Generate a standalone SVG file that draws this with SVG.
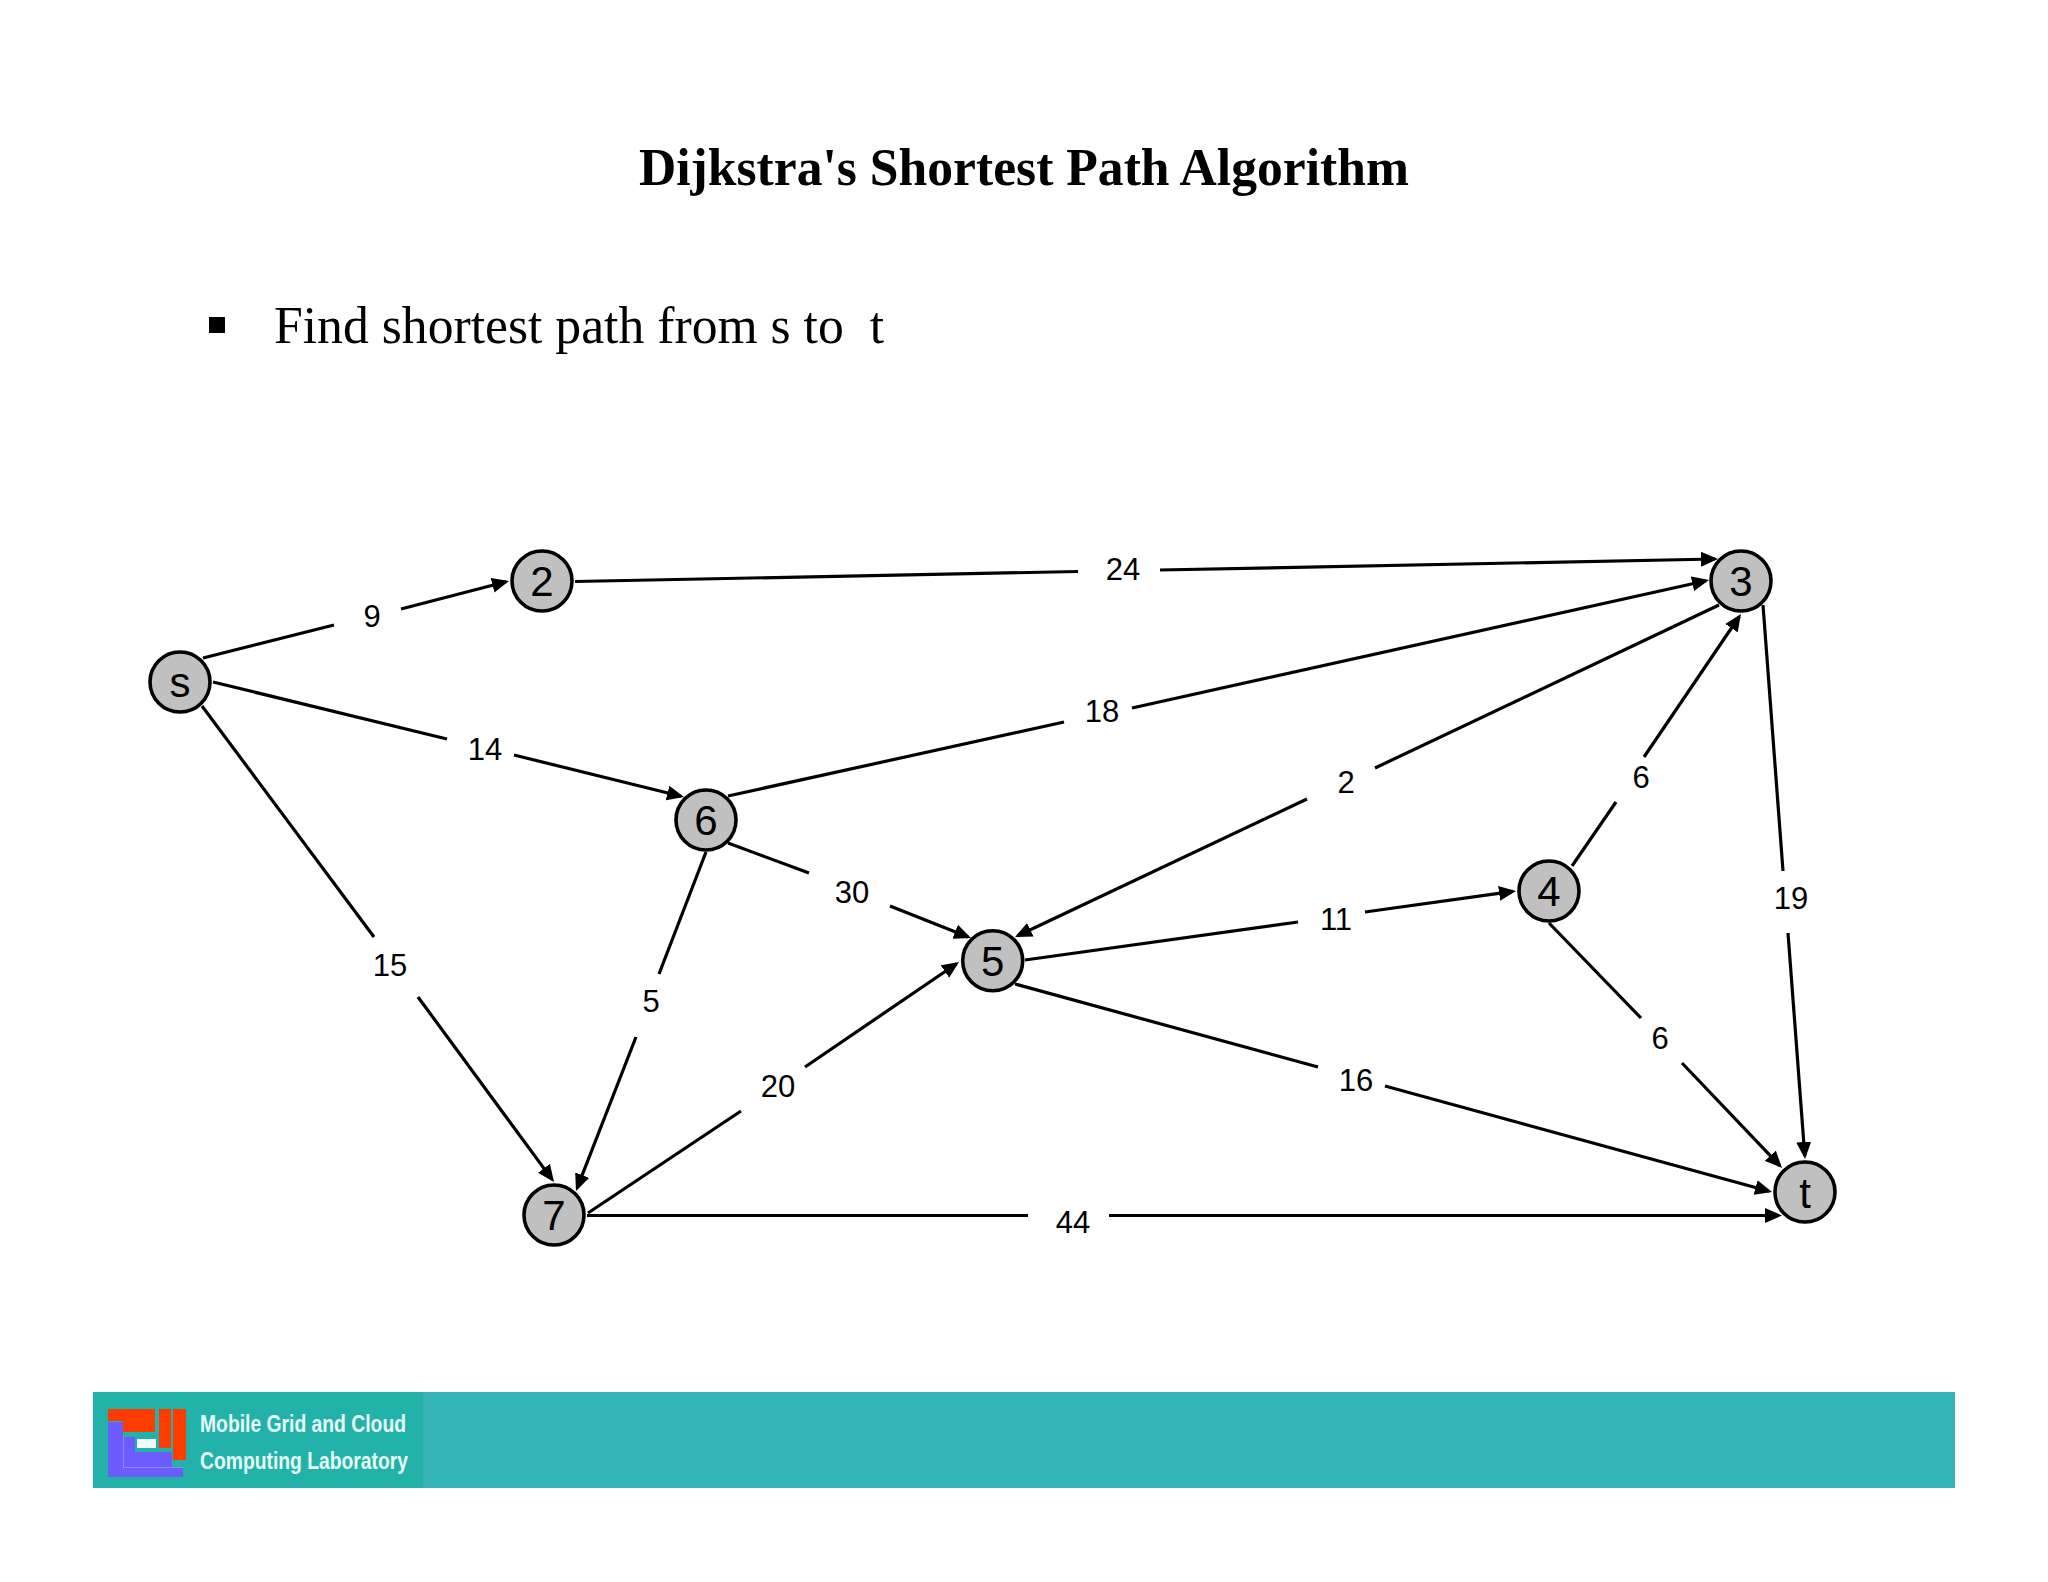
<svg xmlns="http://www.w3.org/2000/svg" width="2048" height="1582" viewBox="0 0 2048 1582">
  <style>
    .e { stroke: #000; stroke-width: 3.2; fill: none; }
    .a { marker-end: url(#arrow); }
    .w { font-family: "Liberation Sans", Arial, sans-serif; font-size: 31px; fill: #000; text-anchor: middle; }
    .n { fill: #c0c0c0; stroke: #000; stroke-width: 3.6; }
    .nt { font-family: "Liberation Sans", Arial, sans-serif; font-size: 42px; fill: #000; text-anchor: middle; }
    .title { font-family: "Liberation Serif", "Times New Roman", serif; font-size: 53px; font-weight: bold; fill: #000; }
    .body { font-family: "Liberation Serif", "Times New Roman", serif; font-size: 53px; fill: #000; white-space: pre; }
    .logo { font-family: "Liberation Sans", Arial, sans-serif; font-size: 23px; font-weight: bold; fill: #e6fbf6; }
    .or { fill: #ff3c00; }
    .bl { fill: #6a5cff; }
  </style>
  <defs>
    <marker id="arrow" markerUnits="userSpaceOnUse" markerWidth="17" markerHeight="16" viewBox="0 0 17 16" refX="14" refY="8" orient="auto">
      <path d="M0 0.5L17 8L0 15.5Z" fill="#000"/>
    </marker>
  </defs>
  <rect width="2048" height="1582" fill="#fff"/>

  <text class="title" x="639" y="185" textLength="770" lengthAdjust="spacingAndGlyphs">Dijkstra's Shortest Path Algorithm</text>
  <rect x="209" y="317" width="16" height="16" fill="#000"/>
  <text class="body" x="274" y="343" textLength="610" lengthAdjust="spacingAndGlyphs" xml:space="preserve">Find shortest path from s to  t</text>

  <g id="connectors">
    <line class="e" x1="203" y1="658" x2="334" y2="625"/><line class="e a" x1="401" y1="609" x2="506.1" y2="581.8"/>
    <text class="w" x="372" y="627">9</text>
    <line class="e" x1="213" y1="682" x2="447" y2="739"/><line class="e a" x1="514" y1="755" x2="681.1" y2="796.3"/>
    <text class="w" x="485" y="760">14</text>
    <line class="e" x1="202" y1="706" x2="374" y2="937"/><line class="e a" x1="418" y1="997" x2="552.2" y2="1179.6"/>
    <text class="w" x="390" y="976">15</text>
    <line class="e" x1="575" y1="581.5" x2="1078" y2="571.5"/><line class="e a" x1="1160" y1="570" x2="1715" y2="559"/>
    <text class="w" x="1123" y="580">24</text>
    <line class="e" x1="728" y1="796" x2="1064" y2="722"/><line class="e a" x1="1132" y1="708" x2="1706.1" y2="580.7"/>
    <text class="w" x="1102" y="722">18</text>
    <line class="e" x1="1719" y1="605" x2="1375" y2="768"/><line class="e a" x1="1307" y1="799" x2="1017.7" y2="935.7"/>
    <text class="w" x="1346" y="793">2</text>
    <line class="e" x1="1572" y1="866" x2="1616" y2="802"/><line class="e a" x1="1644" y1="757" x2="1739.3" y2="616.5"/>
    <text class="w" x="1641" y="788">6</text>
    <line class="e" x1="1763" y1="605" x2="1783" y2="871"/><line class="e a" x1="1788" y1="933" x2="1804.8" y2="1156"/>
    <text class="w" x="1791" y="909">19</text>
    <line class="e" x1="1549" y1="923" x2="1641" y2="1018"/><line class="e a" x1="1682" y1="1063" x2="1780" y2="1165.8"/>
    <text class="w" x="1660" y="1049">6</text>
    <line class="e" x1="1025" y1="960" x2="1298" y2="922"/><line class="e a" x1="1365" y1="912" x2="1513" y2="891.4"/>
    <text class="w" x="1336" y="930">11</text>
    <line class="e" x1="1015" y1="984" x2="1318" y2="1067"/><line class="e a" x1="1385" y1="1086" x2="1769.1" y2="1191.2"/>
    <text class="w" x="1356" y="1091">16</text>
    <line class="e" x1="587" y1="1215.5" x2="1028" y2="1215.5"/><line class="e a" x1="1109" y1="1215.5" x2="1779" y2="1215.5"/>
    <text class="w" x="1073" y="1233">44</text>
    <line class="e" x1="588" y1="1213" x2="741" y2="1111"/><line class="e a" x1="805" y1="1067" x2="956.5" y2="963.7"/>
    <text class="w" x="778" y="1097">20</text>
    <line class="e" x1="706" y1="852" x2="659" y2="974"/><line class="e a" x1="636" y1="1037" x2="577.1" y2="1188.2"/>
    <text class="w" x="651" y="1012">5</text>
    <line class="e" x1="728" y1="843" x2="809" y2="873"/><line class="e a" x1="890" y1="906" x2="968.2" y2="936.9"/>
    <text class="w" x="852" y="903">30</text>
  </g>

  <g id="node-s"><circle class="n" cx="180" cy="682" r="30"/><text class="nt" x="180" y="697">s</text></g>
  <g id="node-2"><circle class="n" cx="542" cy="581" r="30"/><text class="nt" x="542" y="596">2</text></g>
  <g id="node-3"><circle class="n" cx="1741" cy="581" r="30"/><text class="nt" x="1741" y="596">3</text></g>
  <g id="node-6"><circle class="n" cx="706" cy="820" r="30"/><text class="nt" x="706" y="835">6</text></g>
  <g id="node-5"><circle class="n" cx="992.7" cy="960.7" r="30"/><text class="nt" x="992.7" y="975.7">5</text></g>
  <g id="node-4"><circle class="n" cx="1549" cy="891" r="30"/><text class="nt" x="1549" y="906">4</text></g>
  <g id="node-7"><circle class="n" cx="554" cy="1215" r="30"/><text class="nt" x="554" y="1230">7</text></g>
  <g id="node-t"><circle class="n" cx="1805" cy="1192" r="30"/><text class="nt" x="1805" y="1208">t</text></g>

  <rect x="93" y="1392" width="1862" height="96" fill="#36b5b8"/>
  <rect x="93" y="1392" width="330" height="96" fill="#23b2aa"/>
  <rect class="bl" x="108" y="1422" width="15" height="55"/>
  <rect class="bl" x="108" y="1467" width="75" height="10"/>
  <rect class="bl" x="123" y="1437" width="12" height="30"/>
  <rect class="bl" x="123" y="1452" width="49" height="15"/>
  <rect x="123" y="1437" width="1" height="30" fill="#9088ff"/>
  <rect x="123" y="1467" width="60" height="1" fill="#9088ff"/>
  <rect class="or" x="108" y="1409" width="47" height="12"/>
  <rect class="or" x="123" y="1421" width="32" height="11"/>
  <rect class="or" x="159" y="1409" width="12" height="39"/>
  <rect class="or" x="173" y="1409" width="13" height="51"/>
  <rect x="137" y="1439" width="19" height="9" fill="#f4fbf8"/>
  <text class="logo" x="200" y="1432" textLength="206" lengthAdjust="spacingAndGlyphs">Mobile Grid and Cloud</text>
  <text class="logo" x="200" y="1469" textLength="208" lengthAdjust="spacingAndGlyphs">Computing Laboratory</text>
</svg>
